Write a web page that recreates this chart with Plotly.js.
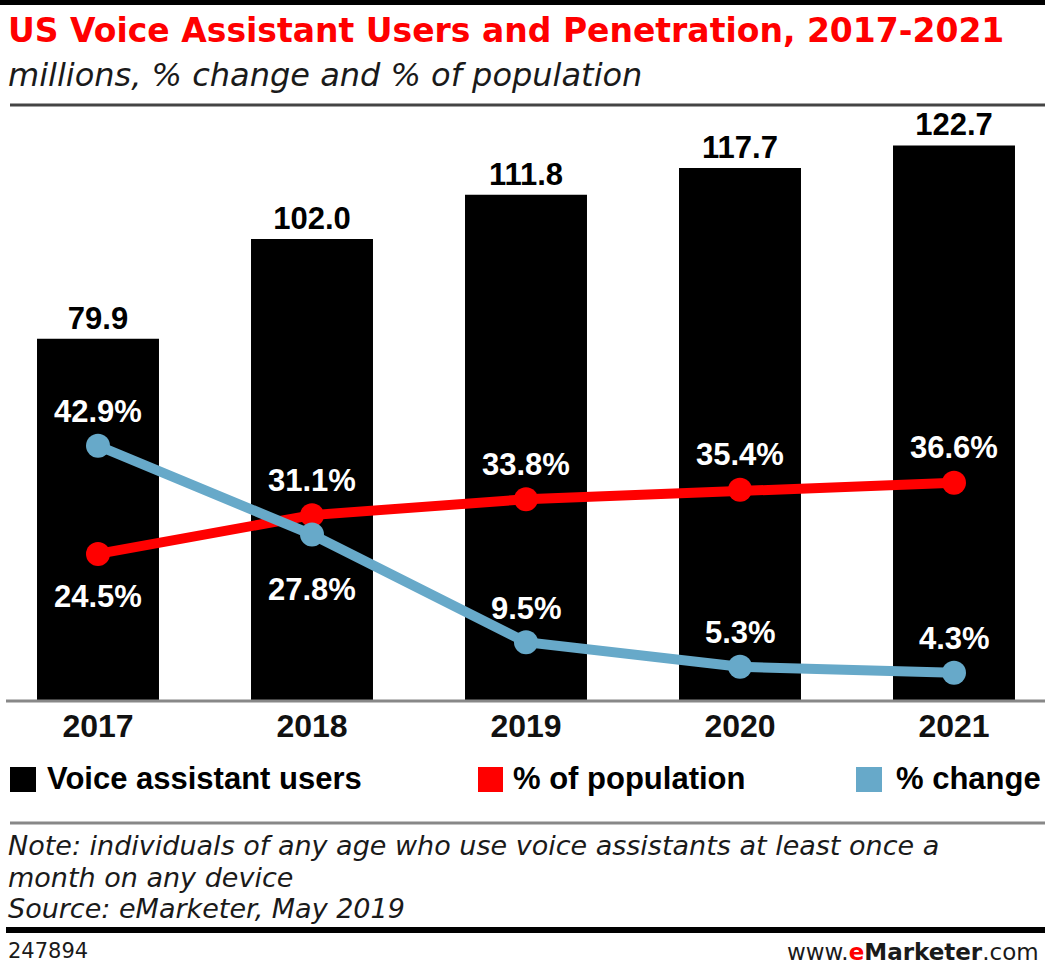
<!DOCTYPE html>
<html>
<head>
<meta charset="utf-8">
<script src="https://cdn.plot.ly/plotly-3.0.1.min.js"></script>
<style>
html,body{margin:0;padding:0;background:#fff;}
#chart{width:1045px;height:965px;}
</style>
</head>
<body>
<div id="chart"></div>
<script>
// ---- data ----
var years = ['2017', '2018', '2019', '2020', '2021'];
var users = [79.9, 102.0, 111.8, 117.7, 122.7];          // millions
var pctPopulation = [24.5, 31.1, 33.8, 35.4, 36.6];      // % of population
var pctChange = [42.9, 27.8, 9.5, 5.3, 4.3];             // % change
var popLabelSide = ['below', 'above', 'above', 'above', 'above'];
var chgLabelSide = ['above', 'below', 'above', 'above', 'above'];
var noteLines = [
  'Note: individuals of any age who use voice assistants at least once a',
  'month on any device',
  'Source: eMarketer, May 2019'
];

// ---- layout geometry (pixels) ----
var W = 1045, H = 965;
var L = 10, R = 1035, T = 120, B = 700;
function px(x) { return (x - L) / (R - L); }
function py(y) { return (B - y) / (B - T); }

var FONT = 'Liberation Sans, Arial, sans-serif';
var WIDE = 'DejaVu Sans, Verdana, sans-serif';
var RED = '#ff0000', BLUE = '#67a9c9';

var traces = [
  {
    type: 'bar', x: years, y: users, name: 'Voice assistant users',
    marker: { color: '#000000', line: { width: 0 } },
    text: users.map(function (v) { return v.toFixed(1); }),
    textposition: 'outside', cliponaxis: false,
    textfont: { family: FONT, size: 31, color: '#000', weight: 'bold' },
    hoverinfo: 'skip', showlegend: false
  },
  {
    type: 'scatter', mode: 'lines+markers', x: years, y: pctPopulation, yaxis: 'y2',
    name: '% of population', line: { color: RED, width: 10 },
    marker: { color: RED, size: 24 }, cliponaxis: false, showlegend: false
  },
  {
    type: 'scatter', mode: 'lines+markers', x: years, y: pctChange, yaxis: 'y2',
    name: '% change', line: { color: BLUE, width: 10 },
    marker: { color: BLUE, size: 24 }, cliponaxis: false, showlegend: false
  }
];

var ann = [];
function addPctLabels(vals, sides, upShift, downShift) {
  vals.forEach(function (v, i) {
    ann.push({
      x: i, y: v, xref: 'x', yref: 'y2', showarrow: false,
      text: v.toFixed(1) + '%', xanchor: 'center', yanchor: 'middle',
      yshift: sides[i] === 'above' ? upShift : -downShift,
      font: { family: FONT, size: 31, color: '#ffffff', weight: 'bold' }
    });
  });
}
addPctLabels(pctPopulation, popLabelSide, 35, 43);
addPctLabels(pctChange, chgLabelSide, 34, 55);

function txt(x, y, text, font, opts) {
  var a = {
    xref: 'paper', yref: 'paper', x: px(x), y: py(y), text: text, showarrow: false,
    xanchor: 'left', yanchor: 'middle', align: 'left', font: font
  };
  for (var k in opts) a[k] = opts[k];
  return a;
}

ann.push(txt(6, 31, 'US Voice Assistant Users and Penetration, 2017-2021',
  { family: WIDE, size: 33, color: RED, weight: 'bold' }));
ann.push(txt(6, 75, 'millions, % change and % of population',
  { family: WIDE, size: 32, color: '#1a1a1a', style: 'italic' }));

// legend
var legFont = { family: FONT, size: 31, color: '#000', weight: 'bold' };
ann.push(txt(45, 779, 'Voice assistant users', legFont));
ann.push(txt(511, 779, '% of population', legFont));
ann.push(txt(894, 779, '% change', legFont));

// notes
var noteY = [845, 877, 908];
noteLines.forEach(function (s, i) {
  ann.push(txt(6, noteY[i], s, { family: WIDE, size: 27, color: '#1a1a1a', style: 'italic' }));
});
ann.push(txt(6, 951, '247894', { family: WIDE, size: 21, color: '#1a1a1a' }));
ann.push(txt(1041, 952, 'www.<b><span style="color:#ff0000">e</span>Marketer</b>.com',
  { family: WIDE, size: 23, color: '#1a1a1a' }, { xanchor: 'right' }));

var shapes = [
  { type: 'rect', xref: 'paper', yref: 'paper', x0: px(0), x1: px(W), y0: py(0), y1: py(5), fillcolor: '#000', line: { width: 0 } },
  { type: 'line', xref: 'paper', yref: 'paper', x0: px(10), x1: px(W), y0: py(105), y1: py(105), line: { color: '#444', width: 3 } },
  { type: 'line', xref: 'paper', yref: 'paper', x0: px(6), x1: px(W), y0: py(701), y1: py(701), line: { color: '#888', width: 3 } },
  { type: 'line', xref: 'paper', yref: 'paper', x0: px(10), x1: px(W), y0: py(823), y1: py(823), line: { color: '#888', width: 3 } },
  { type: 'line', xref: 'paper', yref: 'paper', x0: px(6), x1: px(W), y0: py(930), y1: py(930), line: { color: '#000', width: 6 } },
  { type: 'rect', xref: 'paper', yref: 'paper', x0: px(10), x1: px(36), y0: py(767), y1: py(792), fillcolor: '#000', line: { width: 0 } },
  { type: 'rect', xref: 'paper', yref: 'paper', x0: px(478), x1: px(503), y0: py(767), y1: py(792), fillcolor: RED, line: { width: 0 } },
  { type: 'rect', xref: 'paper', yref: 'paper', x0: px(856), x1: px(882), y0: py(767), y1: py(792), fillcolor: BLUE, line: { width: 0 } }
];

// category scale: center of first bar at 98px, spacing 214px
var c0 = 98, step = 214;
var layout = {
  width: W, height: H,
  margin: { l: L, r: W - R, t: T, b: H - B, pad: 0 },
  paper_bgcolor: '#fff', plot_bgcolor: '#fff',
  showlegend: false, bargap: 0.43,
  xaxis: {
    type: 'category', range: [(L - c0) / step, (R - c0) / step],
    showgrid: false, zeroline: false, showline: false, ticks: '',
    tickfont: { family: FONT, size: 32, color: '#111', weight: 'bold' },
    ticklabelstandoff: 4, fixedrange: true
  },
  yaxis: {
    range: [0, (B - T) / 4.52], visible: false, showgrid: false, zeroline: false, fixedrange: true
  },
  yaxis2: {
    overlaying: 'y', range: [-2 / 5.88, (B - 2 - T) / 5.88], visible: false,
    showgrid: false, zeroline: false, fixedrange: true
  },
  annotations: ann,
  shapes: shapes,
  font: { family: FONT }
};

Plotly.newPlot('chart', traces, layout, { staticPlot: true, displayModeBar: false });
</script>
</body>
</html>
